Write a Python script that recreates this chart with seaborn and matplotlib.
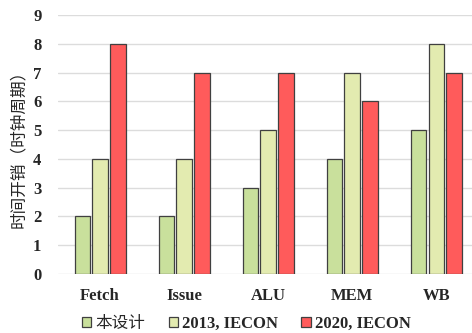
import pandas as pd
import matplotlib.pyplot as plt
import seaborn as sns

# Stage latency data
stages = ['Fetch', 'Issue', 'ALU', 'MEM', 'WB']
series = ['本设计', '2013, IECON', '2020, IECON']
this_design = [2, 2, 3, 4, 5]
iecon_2013 = [4, 4, 5, 7, 8]
iecon_2020 = [8, 7, 7, 6, 7]
colors = ['#c9e09c', '#e3ebb0', '#ff5b5b']

df = pd.DataFrame({
    'stage': stages * 3,
    'cycles': this_design + iecon_2013 + iecon_2020,
    'series': [s for s in series for _ in stages],
})

sns.set_style('white')
plt.rcParams['font.family'] = ['Liberation Serif', 'Noto Sans CJK SC']

fig = plt.figure(figsize=(4.72, 3.33), dpi=100)
# plot area runs a little past the right edge, like the original
ax = fig.add_axes([0.123, 0.177, 0.89, 0.778])

sns.barplot(data=df, x='stage', y='cycles', hue='series', palette=colors, saturation=1,
            width=0.64, gap=0.15, edgecolor='#404040', linewidth=0.9, ax=ax)

ax.set_ylim(0, 9)
ax.set_yticks(range(10))
ax.yaxis.grid(True, color='#dcdcdc', linewidth=1)
ax.set_axisbelow(True)
for s in ax.spines.values():
    s.set_visible(False)
ax.tick_params(axis='both', length=0, labelsize=12)
for lab in ax.get_xticklabels() + ax.get_yticklabels():
    lab.set_fontweight('bold')
    lab.set_family('Liberation Serif')
ax.tick_params(axis='x', pad=10)
ax.tick_params(axis='y', pad=12)
ax.set_xlabel('')
ax.set_ylabel('时间开销（时钟周期）', fontsize=12, family=['Noto Sans CJK SC', 'DejaVu Sans'])

handles, labels = ax.get_legend_handles_labels()
ax.legend_.remove()
leg = fig.legend(handles, labels, loc='center', bbox_to_anchor=(0.522, 0.03),
                 ncol=3, frameon=False, handlelength=0.55, handleheight=0.55,
                 handletextpad=0.25, columnspacing=1.4,
                 prop={'family': 'Liberation Serif', 'weight': 'bold', 'size': 12})
leg.get_texts()[0].set_family('Noto Sans CJK SC')
leg.get_texts()[0].set_fontweight('normal')

plt.savefig('out.png', dpi=100)
plt.close()
